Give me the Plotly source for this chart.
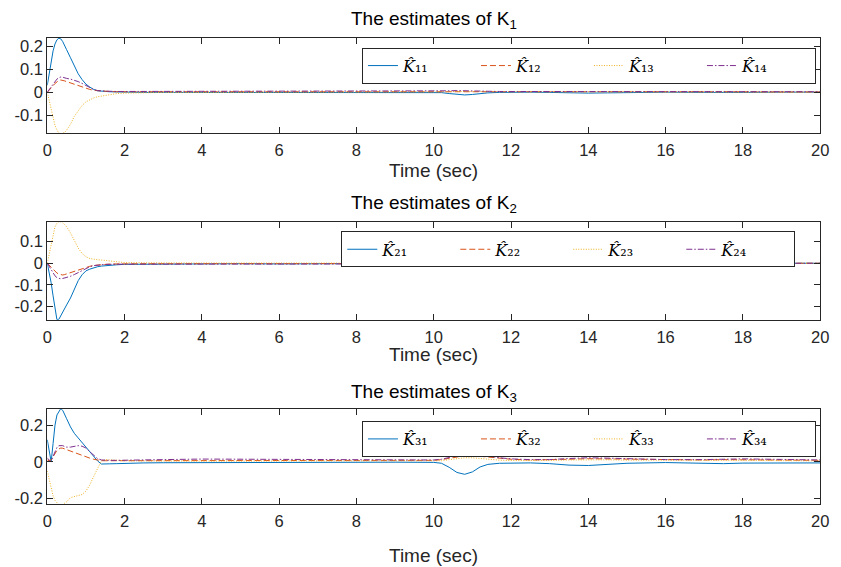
import plotly.graph_objects as go

# ---------------- data ----------------
t = [0, 0.05, 0.1, 0.15, 0.2, 0.25, 0.3, 0.35, 0.4, 0.45, 0.5, 0.6, 0.7, 0.8, 0.9, 1.0,
     1.1, 1.2, 1.3, 1.4, 1.5, 1.6, 1.8, 2, 2.5, 3, 4, 5, 6, 7, 8, 9, 10, 10.2, 10.4, 10.6,
     10.8, 11.0, 11.2, 11.4, 11.7, 12, 12.5, 13, 13.5, 14, 14.5, 15, 16, 17, 17.5, 18, 19, 20]

K11 = [0.03, 0.08, 0.13, 0.18, 0.21, 0.228, 0.235, 0.232, 0.22, 0.2, 0.185, 0.15, 0.115, 0.08, 0.055, 0.035,
       0.022, 0.012, 0.006, 0.004, 0.003, 0.002, 0.001, 0.0, -0.001, -0.001, -0.001, 0.0, -0.001, 0.0, 0.0, 0.0, 0.0, -0.002, -0.006, -0.01,
       -0.012, -0.01, -0.006, -0.003, -0.001, 0.0, 0.0, -0.001, -0.003, -0.004, -0.003, -0.001, 0.0, -0.001, -0.002, -0.001, 0.0, 0.0]
K12 = [0.0, 0.008, 0.018, 0.028, 0.038, 0.046, 0.051, 0.053, 0.052, 0.049, 0.046, 0.04, 0.033, 0.027, 0.021, 0.016,
       0.012, 0.008, 0.006, 0.005, 0.004, 0.003, 0.002, 0.002, 0.002, 0.002, 0.003, 0.003, 0.004, 0.003, 0.002, 0.002, 0.002, 0.003, 0.004, 0.005,
       0.005, 0.004, 0.003, 0.002, 0.002, 0.002, 0.002, 0.002, 0.002, 0.003, 0.003, 0.002, 0.002, 0.002, 0.002, 0.002, 0.001, 0.001]
K13 = [0.0, -0.04, -0.08, -0.115, -0.145, -0.165, -0.178, -0.182, -0.18, -0.175, -0.165, -0.14, -0.105, -0.08, -0.058, -0.042,
       -0.032, -0.025, -0.02, -0.017, -0.014, -0.01, -0.006, -0.004, -0.002, -0.001, -0.001, -0.001, 0.0, -0.001, -0.001, 0.0, 0.0, 0.001, 0.002, 0.003,
       0.003, 0.002, 0.001, 0.0, 0.0, 0.0, 0.0, 0.0, 0.0, 0.001, 0.001, 0.0, 0.0, 0.0, 0.0, 0.0, 0.0, 0.0]
K14 = [0.0, 0.012, 0.025, 0.037, 0.048, 0.057, 0.063, 0.066, 0.065, 0.062, 0.06, 0.057, 0.052, 0.046, 0.038, 0.029,
       0.02, 0.012, 0.007, 0.005, 0.004, 0.004, 0.003, 0.003, 0.003, 0.003, 0.004, 0.004, 0.005, 0.004, 0.003, 0.003, 0.003, 0.004, 0.006, 0.007,
       0.007, 0.006, 0.005, 0.004, 0.003, 0.003, 0.003, 0.003, 0.003, 0.004, 0.004, 0.003, 0.003, 0.003, 0.003, 0.003, 0.002, 0.002]

K21 = [0.0, -0.04, -0.09, -0.15, -0.21, -0.26, -0.258, -0.24, -0.225, -0.21, -0.192, -0.16, -0.118, -0.08, -0.053, -0.035,
       -0.027, -0.02, -0.016, -0.013, -0.011, -0.009, -0.007, -0.005, -0.004, -0.003, -0.003, -0.002, -0.003, -0.002, -0.002, -0.001, -0.001, 0.0, 0.002, 0.003,
       0.003, 0.002, 0.001, 0.0, 0.0, 0.0, 0.0, 0.0, 0.0, 0.0, 0.0, 0.0, 0.0, 0.0, 0.0, 0.0, 0.0, 0.0]
K22 = [0.0, -0.01, -0.02, -0.03, -0.038, -0.045, -0.05, -0.053, -0.054, -0.052, -0.049, -0.043, -0.036, -0.029, -0.023, -0.018,
       -0.014, -0.01, -0.008, -0.006, -0.005, -0.004, -0.003, -0.002, -0.002, -0.002, -0.002, -0.002, -0.003, -0.002, -0.002, -0.002, -0.001, -0.001, 0.0, 0.0,
       0.0, 0.0, 0.0, 0.0, 0.0, 0.0, 0.0, 0.0, 0.0, 0.0, 0.0, 0.0, 0.0, 0.0, 0.0, 0.0, 0.0, 0.0]
K23 = [0.0, 0.04, 0.09, 0.135, 0.168, 0.185, 0.19, 0.19, 0.186, 0.178, 0.168, 0.14, 0.105, 0.07, 0.045, 0.03,
       0.022, 0.018, 0.016, 0.015, 0.013, 0.01, 0.005, 0.003, 0.002, 0.001, 0.001, 0.001, 0.001, 0.001, 0.001, 0.001, 0.001, 0.001, 0.002, 0.002,
       0.002, 0.001, 0.001, 0.0, 0.0, 0.0, 0.0, 0.0, 0.0, 0.0, 0.0, 0.0, 0.0, 0.0, 0.0, 0.0, 0.0, 0.0]
K24 = [0.0, -0.015, -0.03, -0.045, -0.058, -0.066, -0.07, -0.072, -0.07, -0.068, -0.065, -0.06, -0.052, -0.042, -0.032, -0.023,
       -0.016, -0.011, -0.008, -0.006, -0.005, -0.005, -0.004, -0.004, -0.004, -0.004, -0.005, -0.005, -0.006, -0.005, -0.004, -0.003, -0.003, -0.002, -0.001, -0.001,
       -0.001, -0.001, -0.001, -0.001, -0.001, -0.001, 0.0, 0.0, 0.0, 0.0, 0.0, 0.0, 0.0, 0.0, 0.0, 0.0, 0.0, 0.0]

K31 = [0.12, 0.06, 0.0, 0.1, 0.2, 0.255, 0.27, 0.29, 0.28, 0.26, 0.235, 0.19, 0.155, 0.13, 0.105, 0.08,
       0.056, 0.032, 0.005, -0.012, -0.013, -0.011, -0.01, -0.008, -0.006, -0.005, -0.004, -0.003, -0.003, -0.002, -0.002, -0.002, -0.003, -0.008, -0.03, -0.058,
       -0.068, -0.055, -0.028, -0.014, -0.008, -0.006, -0.006, -0.01, -0.018, -0.02, -0.014, -0.008, -0.004, -0.009, -0.01, -0.007, -0.005, -0.006]
K32 = [0.01, 0.005, 0.01, 0.03, 0.05, 0.062, 0.07, 0.075, 0.074, 0.07, 0.066, 0.058, 0.05, 0.042, 0.034, 0.027,
       0.02, 0.014, 0.008, 0.006, 0.006, 0.006, 0.006, 0.006, 0.007, 0.008, 0.01, 0.01, 0.009, 0.008, 0.008, 0.008, 0.008, 0.012, 0.02, 0.028,
       0.033, 0.034, 0.03, 0.025, 0.018, 0.014, 0.01, 0.01, 0.014, 0.017, 0.016, 0.013, 0.01, 0.01, 0.012, 0.012, 0.01, 0.008]
K33 = [-0.05, -0.1, -0.15, -0.185, -0.21, -0.225, -0.235, -0.24, -0.235, -0.225, -0.218, -0.195, -0.188, -0.185, -0.178, -0.16,
       -0.125, -0.08, -0.035, 0.005, 0.012, 0.01, 0.008, 0.006, 0.005, 0.004, 0.004, 0.004, 0.004, 0.004, 0.004, 0.004, 0.004, 0.006, 0.012, 0.018,
       0.022, 0.022, 0.018, 0.014, 0.009, 0.007, 0.006, 0.007, 0.01, 0.012, 0.011, 0.009, 0.007, 0.007, 0.008, 0.008, 0.006, 0.005]
K34 = [0.02, 0.01, 0.0, 0.03, 0.06, 0.078, 0.088, 0.09, 0.088, 0.083, 0.08, 0.08, 0.085, 0.088, 0.085, 0.075,
       0.055, 0.035, 0.018, 0.01, 0.008, 0.008, 0.008, 0.008, 0.01, 0.012, 0.015, 0.014, 0.012, 0.011, 0.01, 0.01, 0.01, 0.014, 0.025, 0.036,
       0.043, 0.045, 0.04, 0.032, 0.022, 0.016, 0.012, 0.012, 0.018, 0.022, 0.02, 0.016, 0.012, 0.012, 0.015, 0.016, 0.013, 0.01]

panels = [
    ("1", [K11, K12, K13, K14], ["\u2081\u2081", "\u2081\u2082", "\u2081\u2083", "\u2081\u2084"]),
    ("2", [K21, K22, K23, K24], ["\u2082\u2081", "\u2082\u2082", "\u2082\u2083", "\u2082\u2084"]),
    ("3", [K31, K32, K33, K34], ["\u2083\u2081", "\u2083\u2082", "\u2083\u2083", "\u2083\u2084"]),
]

x_ticks = [0, 2, 4, 6, 8, 10, 12, 14, 16, 18, 20]
y_ticks = [[-0.1, 0, 0.1, 0.2], [-0.2, -0.1, 0, 0.1], [-0.2, 0, 0.2]]
y_ticktext = [["-0.1", "0", "0.1", "0.2"], ["-0.2", "-0.1", "0", "0.1"], ["-0.2", "0", "0.2"]]
y_ranges = [[-0.178, 0.237], [-0.26, 0.188], [-0.232, 0.287]]

colors = ["#0072BD", "#D95319", "#EDB120", "#7E2F8E"]
dashes = ["solid", "6px,3px", "1px,1.5px", "6px,2px,1.5px,2px"]

# ---------------- layout geometry ----------------
W, H = 841, 567
x_dom = [43 / W, 829 / W]
y_doms = [[1 - 133 / H, 1 - 37 / H], [1 - 321 / H, 1 - 223 / H], [1 - 507 / H, 1 - 411 / H]]
legend_pos = [(363 / W, 1 - 47 / H), (342 / W, 1 - 232 / H), (363 / W, 1 - 423 / H)]
title_y = [1 - 19.5 / H, 1 - 204.5 / H, 1 - 394.5 / H]
xlabel_y = [1 - 171 / H, 1 - 356 / H, 1 - 558 / H]

fig = go.Figure()
axis_color = "#262626"
tick_font = dict(family="Liberation Sans, Arial", size=16.5, color=axis_color)

for i, (num, series, subs) in enumerate(panels):
    ax = "" if i == 0 else str(i + 1)
    lg = "legend" if i == 0 else "legend" + str(i + 1)
    for j, (s, sub) in enumerate(zip(series, subs)):
        fig.add_trace(go.Scatter(
            x=t, y=s, mode="lines",
            line=dict(color=colors[j], width=1, dash=dashes[j]),
            name="<i>K\u0302</i>" + sub,
            xaxis="x" + ax, yaxis="y" + ax, legend=lg,
        ))
    common = dict(showline=True, linecolor=axis_color, linewidth=1, mirror="ticks",
                  ticks="inside", ticklen=6, tickcolor=axis_color, showgrid=False,
                  zeroline=False, tickfont=tick_font)
    fig.update_layout(**{
        "xaxis" + ax: dict(domain=x_dom, range=[0, 20], tickvals=x_ticks,
                           anchor="y" + ax, ticklabelstandoff=2, **common),
        "yaxis" + ax: dict(domain=y_doms[i], range=y_ranges[i], tickvals=y_ticks[i],
                           ticktext=y_ticktext[i], anchor="x" + ax, **common),
        lg: dict(x=legend_pos[i][0], y=legend_pos[i][1], xanchor="left", yanchor="top",
                 orientation="h", bgcolor="white", bordercolor=axis_color, borderwidth=1,
                 font=dict(family="DejaVu Serif", size=16, color="black"),
                 entrywidth=68, entrywidthmode="pixels", itemclick=False,
                 tracegroupgap=0),
    })
    fig.add_annotation(text="The estimates of K<sub>" + num + "</sub>", xref="paper", yref="paper",
                       x=(x_dom[0] + x_dom[1]) / 2, y=title_y[i], xanchor="center",
                       yanchor="middle", showarrow=False,
                       font=dict(family="Liberation Sans, Arial", size=19, color="black"))
    fig.add_annotation(text="Time (sec)", xref="paper", yref="paper",
                       x=(x_dom[0] + x_dom[1]) / 2, y=xlabel_y[i], xanchor="center",
                       yanchor="middle", showarrow=False,
                       font=dict(family="Liberation Sans, Arial", size=19, color=axis_color))

fig.update_layout(width=W, height=H, margin=dict(l=0, r=0, t=0, b=0),
                  paper_bgcolor="white", plot_bgcolor="white")

fig.write_html("out.html")
